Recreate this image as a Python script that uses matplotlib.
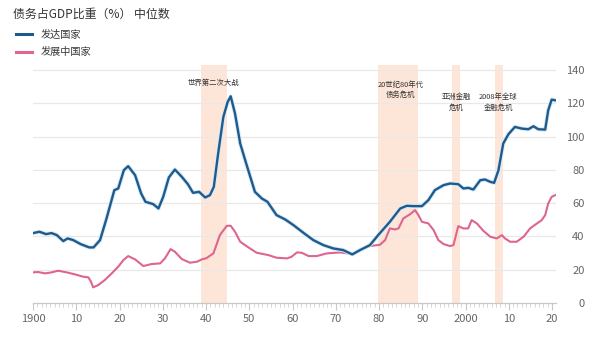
import matplotlib
matplotlib.use("Agg")
import matplotlib.pyplot as plt
import matplotlib.patheffects as pe
from matplotlib.ticker import MultipleLocator

plt.rcParams['font.family'] = ['Noto Sans CJK SC', 'DejaVu Sans']

# ---- data ----
adv_years = [1900, 1901.5, 1903, 1904.3, 1905.5, 1907, 1908, 1909.3, 1911, 1913, 1914, 1915.5,
             1917, 1918.8, 1919.7, 1921, 1922, 1923.6, 1925, 1926, 1927.8, 1929, 1930.1, 1931.4,
             1932.8, 1934.4, 1935.8, 1937, 1938.4, 1939.8, 1940.9, 1941.8, 1942.8, 1944, 1945,
             1945.7, 1946.7, 1947.9, 1949.4, 1951.3, 1952.9, 1954.2, 1956.3, 1958.3, 1960.2,
             1962.5, 1964.8, 1967.1, 1969.4, 1971.7, 1973.8, 1975.6, 1977.9, 1979.8, 1982.5,
             1984.9, 1986.4, 1987.9, 1989.9, 1991.4, 1992.9, 1994.9, 1996.4, 1998.3, 1999.5,
             2000.6, 2001.8, 2003.4, 2004.5, 2005.7, 2006.6, 2007.6, 2008.7, 2009.9, 2011.4,
             2013, 2014.5, 2015.7, 2016.8, 2018.4, 2019.1, 2019.9, 2020.7]
adv_values = [42, 42.8, 41.4, 42, 40.8, 37.2, 38.8, 37.8, 35.4, 33.4, 33.4, 37.8,
              50.8, 67.8, 68.8, 79.8, 82.2, 76.8, 65.8, 60.8, 59.4, 56.8, 63.8, 75.4,
              80.2, 75.8, 71.4, 66.2, 66.8, 63.4, 64.8, 69.8, 89.8, 111.8, 120.8,
              124.2, 113.8, 95.8, 82.8, 66.8, 62.8, 60.8, 52.8, 50.2, 46.8,
              42.2, 37.8, 34.8, 32.8, 31.8, 29.2, 31.8, 34.8, 40.8, 48.8,
              56.8, 58.4, 58.2, 58.2, 61.8, 67.8, 70.8, 71.8, 71.4, 68.8,
              69.2, 68.2, 73.8, 74.2, 72.8, 72.2, 79.8, 95.8, 101.4, 105.8,
              104.8, 104.4, 106.2, 104.4, 104.2, 115.8, 122.2, 121.8]

dev_years = [1900, 1901.2, 1902.8, 1904.3, 1905.8, 1907.8, 1909.7, 1911.6, 1912.8, 1913.4, 1913.9,
             1915.1, 1916.6, 1918.2, 1919.7, 1920.9, 1922, 1923.6, 1925.5, 1927.4, 1929.4, 1930.5,
             1931.8, 1932.8, 1934.4, 1936.3, 1937.9, 1939.2, 1940, 1941.7, 1943.2, 1944.8, 1945.7,
             1946.7, 1947.9, 1949.8, 1951.7, 1954.4, 1956.3, 1958.7, 1959.8, 1961, 1962.1, 1963.7,
             1965.6, 1967.9, 1971, 1973.8, 1975.6, 1977.9, 1980.2, 1981.4, 1982.5, 1983.7, 1984.5,
             1985.6, 1987.2, 1988.3, 1989.1, 1989.9, 1991.4, 1992.6, 1993.7, 1994.9, 1996.4, 1997.2,
             1998.3, 1999.5, 2000.6, 2001.4, 2002.6, 2004.1, 2005.7, 2007.2, 2008.4, 2009.1, 2010.3,
             2011.8, 2013.4, 2014.9, 2016.5, 2017.6, 2018.4, 2019.1, 2019.9, 2020.7]
dev_values = [18.4, 18.6, 17.8, 18.4, 19.4, 18.4, 17.2, 15.8, 15.4, 12.8, 9.4,
              10.8, 13.8, 17.8, 21.8, 25.8, 28.2, 26.2, 22.2, 23.4, 23.8, 26.8,
              32.4, 30.8, 26.4, 24.2, 24.8, 26.4, 26.8, 29.8, 40.8, 46.4, 46.4,
              42.8, 36.8, 33.4, 30.2, 28.8, 27.2, 26.8, 27.8, 30.4, 30.2, 28.2,
              28.2, 29.8, 30.4, 29.4, 31.8, 34.2, 35, 37.8, 44.8, 44.2, 44.8,
              50.8, 53.4, 55.8, 52.8, 48.8, 47.8, 43.8, 37.8, 35.4, 34.2, 34.8,
              46.2, 44.8, 44.8, 49.8, 47.8, 43.4, 39.8, 38.8, 40.8, 38.8, 36.8,
              36.8, 39.8, 44.8, 47.8, 49.8, 52.8, 59.8, 63.8, 64.8]

crisis_start = [1938.8, 1979.8, 1996.9, 2006.8]
crisis_end = [1944.9, 1989.0, 1998.7, 2008.7]
crisis_labels = ["世界第二次大战", "20世纪80年代\n债务危机", "亚洲金融\n危机", "2008年全球\n金融危机"]
label_years = [1941.6, 1984.9, 1997.8, 2007.6]
label_values = [132.5, 128.0, 120.5, 120.5]

x_ticks = [1900, 1910, 1920, 1930, 1940, 1950, 1960, 1970, 1980, 1990, 2000, 2010, 2020]
x_tick_labels = ["1900", "10", "20", "30", "40", "50", "60", "70", "80", "90", "2000", "10", "20"]
y_ticks = [0, 20, 40, 60, 80, 100, 120, 140]

series_names = ["发达国家", "发展中国家"]
title = "债务占GDP比重（%） 中位数"

# ---- styling ----
BLUE = "#1f5a8c"
PINK = "#dd6590"
SHADE = "#fde6d8"
GRID = "#e8e8e8"
TICKC = "#666666"

fig = plt.figure(figsize=(6.0, 3.44), dpi=100)
ax = fig.add_axes([33 / 600, 1 - 303 / 344, (556 - 33) / 600, (303 - 65) / 344])

for s, e in zip(crisis_start, crisis_end):
    ax.axvspan(s, e, color=SHADE, lw=0, zorder=0)

for t, xv, yv in zip(crisis_labels, label_years, label_values):
    ax.text(xv, yv, t, ha="center", va="center", fontsize=5.3, color="#333333",
            linespacing=1.35, zorder=4)

ax.plot(dev_years, dev_values, color=PINK, lw=1.5, zorder=3, label=series_names[1],
        solid_joinstyle="round")
ax.plot(adv_years, adv_values, color=BLUE, lw=1.7, zorder=3, label=series_names[0],
        solid_joinstyle="round",
        path_effects=[pe.Stroke(linewidth=3.0, foreground="#d6eaf7"), pe.Normal()])

ax.set_xlim(1900, 2020.9)
ax.set_ylim(0, 143)

ax.set_yticks(y_ticks)
for yv in y_ticks[1:]:
    ax.axhline(yv, color=GRID, lw=0.9, zorder=1)

ax.set_xticks(x_ticks)
ax.set_xticklabels(x_tick_labels)
ax.xaxis.set_minor_locator(MultipleLocator(1))

for sp in ["top", "right", "left"]:
    ax.spines[sp].set_visible(False)
ax.spines["bottom"].set_color("#c8c8c8")
ax.spines["bottom"].set_linewidth(0.9)

ax.tick_params(axis="x", which="major", direction="out", length=5, width=0.8,
               color="#c8c8c8", labelsize=8, labelcolor=TICKC, pad=3)
ax.tick_params(axis="x", which="minor", direction="out", length=3, width=0.6,
               color="#d0d0d0")
ax.tick_params(axis="y", which="both", left=False, right=False, labelleft=False,
               labelright=True, labelsize=8, labelcolor=TICKC, pad=17)
for lab in ax.yaxis.get_majorticklabels():
    lab.set_horizontalalignment("right")

fig.text(13 / 600, 1 - 14 / 344, title, fontsize=8.6, color="#333333", va="center", ha="left")

h, l = ax.get_legend_handles_labels()
leg = fig.legend(h[::-1], l[::-1], loc="upper left", bbox_to_anchor=(16 / 600, 1 - 30 / 344),
                 frameon=False, fontsize=7.3, handlelength=1.6, handletextpad=0.8,
                 labelspacing=0.7, borderpad=0, borderaxespad=0)
for txt in leg.get_texts():
    txt.set_color("#333333")
for ln in leg.get_lines():
    ln.set_linewidth(2.2)
    ln.set_path_effects([])

fig.savefig("out.png", dpi=100, facecolor="white")
